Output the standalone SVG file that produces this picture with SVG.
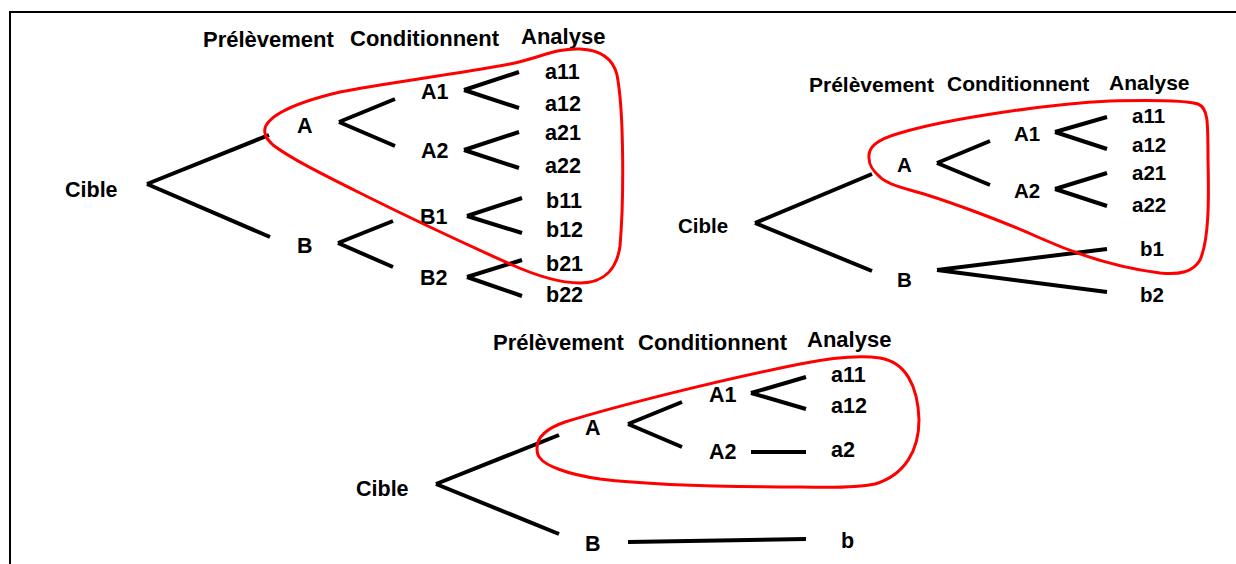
<svg xmlns="http://www.w3.org/2000/svg" width="1236" height="564" viewBox="0 0 1236 564">
<style>
text{font-family:"Liberation Sans",Arial,sans-serif;font-weight:bold;fill:#000}
.h{font-size:22px}
.l{font-size:21.5px}
.t2 .h{font-size:21px}
.t2 .l{font-size:20.5px}
.c line{stroke:#000;stroke-width:4;fill:none}
.g{fill:none;stroke:#f00;stroke-width:3}
</style>
<rect width="1236" height="564" fill="#fff"/>
<path d="M10,564 V12 H1236" fill="none" stroke="#000" stroke-width="2"/>

<g id="tree1">
<g id="t1-headers"><text class="h" x="203" y="47">Prélèvement</text><text class="h" x="350" y="46">Conditionnent</text><text class="h" x="521" y="44">Analyse</text></g>
<g id="t1-cible"><text class="l" x="65" y="197">Cible</text></g>
<g id="t1-A"><text class="l" x="297" y="133">A</text></g>
<g id="t1-B"><text class="l" x="297" y="253">B</text></g>
<g id="t1-A1"><text class="l" x="421" y="99">A1</text></g>
<g id="t1-A2"><text class="l" x="421" y="158">A2</text></g>
<g id="t1-B1"><text class="l" x="420" y="224">B1</text></g>
<g id="t1-B2"><text class="l" x="420" y="285">B2</text></g>
<g id="t1-a11"><text class="l" x="545" y="79">a11</text></g>
<g id="t1-a12"><text class="l" x="545" y="111">a12</text></g>
<g id="t1-a21"><text class="l" x="545" y="140">a21</text></g>
<g id="t1-a22"><text class="l" x="545" y="173">a22</text></g>
<g id="t1-b11"><text class="l" x="546" y="208">b11</text></g>
<g id="t1-b12"><text class="l" x="546" y="237">b12</text></g>
<g id="t1-b21"><text class="l" x="546" y="271">b21</text></g>
<g id="t1-b22"><text class="l" x="546" y="302">b22</text></g>
<g id="t1-connectors" class="c">
<line x1="147" y1="184" x2="269" y2="135"/><line x1="147" y1="184" x2="270" y2="237"/>
<line x1="339" y1="122" x2="395" y2="99"/><line x1="339" y1="122" x2="395" y2="146"/>
<line x1="338" y1="243" x2="393" y2="221"/><line x1="338" y1="243" x2="393" y2="267"/>
<line x1="464" y1="90" x2="519" y2="72"/><line x1="464" y1="90" x2="519" y2="108"/>
<line x1="464" y1="150" x2="519" y2="132"/><line x1="464" y1="150" x2="519" y2="168"/>
<line x1="467" y1="216" x2="522" y2="198"/><line x1="467" y1="216" x2="522" y2="233"/>
<line x1="467" y1="277" x2="522" y2="260"/><line x1="467" y1="277" x2="522" y2="296"/>
</g>
<g id="t1-group"><path class="g" d="M265,133 C262,120 285,105 340,92 C380,84 450,75 510,64 C540,58 555,48 580,49 C600,50 613,58 617,75 C624,110 624,200 620,246 C617,268 605,283 580,283 C555,283 530,273 510,264 C470,246 400,213 360,193 C320,173 290,158 273,145 C268,140 265,137 265,133 Z"/></g>
</g>

<g id="tree2" class="t2">
<g id="t2-headers"><text class="h" x="809" y="92">Prélèvement</text><text class="h" x="947" y="91">Conditionnent</text><text class="h" x="1109" y="90">Analyse</text></g>
<g id="t2-cible"><text class="l" x="678" y="233">Cible</text></g>
<g id="t2-A"><text class="l" x="897" y="172">A</text></g>
<g id="t2-B"><text class="l" x="897" y="287">B</text></g>
<g id="t2-A1"><text class="l" x="1014" y="141">A1</text></g>
<g id="t2-A2"><text class="l" x="1014" y="198">A2</text></g>
<g id="t2-a11"><text class="l" x="1132" y="123">a11</text></g>
<g id="t2-a12"><text class="l" x="1132" y="152">a12</text></g>
<g id="t2-a21"><text class="l" x="1132" y="180">a21</text></g>
<g id="t2-a22"><text class="l" x="1132" y="212">a22</text></g>
<g id="t2-b1"><text class="l" x="1140" y="256">b1</text></g>
<g id="t2-b2"><text class="l" x="1140" y="302">b2</text></g>
<g id="t2-connectors" class="c">
<line x1="755" y1="223" x2="872" y2="174"/><line x1="755" y1="223" x2="872" y2="271"/>
<line x1="937" y1="163" x2="990" y2="141"/><line x1="937" y1="163" x2="990" y2="185"/>
<line x1="937" y1="270" x2="1107" y2="249"/><line x1="937" y1="270" x2="1107" y2="292"/>
<line x1="1055" y1="132" x2="1107" y2="117"/><line x1="1055" y1="132" x2="1107" y2="149"/>
<line x1="1055" y1="189" x2="1107" y2="173"/><line x1="1055" y1="189" x2="1107" y2="206"/>
</g>
<g id="t2-group"><path class="g" d="M869,158 C868,148 875,140 900,133 C950,118 1050,104 1110,101 C1150,100 1185,100 1198,104 C1208,108 1208,120 1208,160 C1209,200 1209,240 1200,260 C1193,272 1180,275 1160,273 C1120,268 1080,256 1040,238 C1000,220 940,198 910,190 C895,186 885,182 880,177 C872,170 869,165 869,158 Z"/></g>
</g>

<g id="tree3">
<g id="t3-headers"><text class="h" x="493" y="350">Prélèvement</text><text class="h" x="638" y="350">Conditionnent</text><text class="h" x="807" y="347">Analyse</text></g>
<g id="t3-cible"><text class="l" x="356" y="496">Cible</text></g>
<g id="t3-A"><text class="l" x="585" y="435">A</text></g>
<g id="t3-B"><text class="l" x="585" y="551">B</text></g>
<g id="t3-A1"><text class="l" x="709" y="402">A1</text></g>
<g id="t3-A2"><text class="l" x="709" y="459">A2</text></g>
<g id="t3-a11"><text class="l" x="831" y="382">a11</text></g>
<g id="t3-a12"><text class="l" x="831" y="413">a12</text></g>
<g id="t3-a2"><text class="l" x="831" y="457">a2</text></g>
<g id="t3-b"><text class="l" x="841" y="548">b</text></g>
<g id="t3-connectors" class="c">
<line x1="436" y1="484" x2="559" y2="435"/><line x1="436" y1="484" x2="559" y2="534"/>
<line x1="628" y1="424" x2="682" y2="402"/><line x1="628" y1="424" x2="682" y2="447"/>
<line x1="751" y1="393" x2="806" y2="377"/><line x1="751" y1="393" x2="806" y2="409"/>
<line x1="751" y1="452" x2="806" y2="452"/>
<line x1="628" y1="542" x2="806" y2="539"/>
</g>
<g id="t3-group"><path class="g" d="M537,448 C537,440 542,430 565,422 C620,405 720,380 800,364 C830,358 860,355 880,358 C905,362 918,385 919,420 C919,450 905,475 875,484 C850,489 820,487 800,487 C730,487 650,485 600,479 C565,474 545,465 540,458 C537,455 537,451 537,448 Z"/></g>
</g>
</svg>
